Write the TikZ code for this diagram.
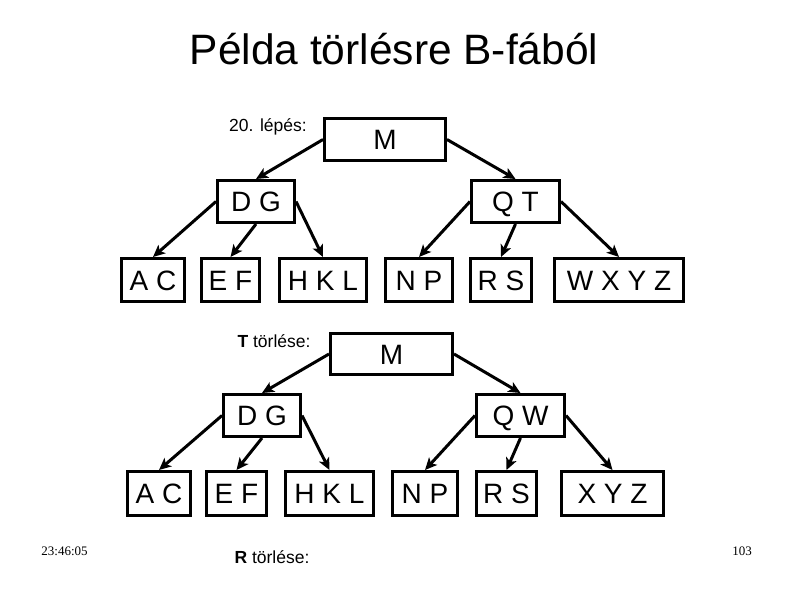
\documentclass[tikz,border=0pt]{standalone}
\usepackage{fontspec}
\setmainfont{Liberation Sans}
\newfontfamily\serifsmall{Liberation Serif}
\usetikzlibrary{arrows.meta}
\begin{document}
\begin{tikzpicture}[x=1pt,y=-1pt,
  bbox/.style={draw,line width=3pt,inner sep=0pt,minimum height=#1,text height=20pt,text depth=0pt,font=\fontsize{28}{28}\selectfont},
  bbox/.default=42pt,
  arr/.style={line width=3pt,-{Stealth[length=12pt,width=11pt,inset=3pt]}},
  lbl/.style={font=\fontsize{17.5}{18}\selectfont,inner sep=0pt}]
\useasboundingbox (0,0) rectangle (794,595);
\fill[white] (0,0) rectangle (794,595);
\node[anchor=base,inner sep=0pt,font=\fontsize{42.5}{42}\selectfont] (title) at (394,64) {Példa törlésre B-fából};
% upper tree
\node[lbl] (l1) at (268,127) {20. lépés:};
\node[bbox,minimum width=121pt] (m1) at (385,139.5) {M};
\node[bbox,minimum width=77pt] (dg1) at (256,201.5) {D G};
\node[bbox,minimum width=88pt] (qt1) at (515.5,201.5) {Q T};
\node[bbox,minimum width=63pt,minimum height=43pt] (ac1) at (153,280) {A C};
\node[bbox,minimum width=58pt,minimum height=43pt] (ef1) at (230.5,280) {E F};
\node[bbox,minimum width=87pt,minimum height=43pt] (hkl1) at (323,280) {H K L};
\node[bbox,minimum width=67pt,minimum height=43pt] (np1) at (419,280) {N P};
\node[bbox,minimum width=61pt,minimum height=43pt] (rs1) at (501,280) {R S};
\node[bbox,minimum width=129pt,minimum height=43pt] (wxyz1) at (619,280) {W X Y Z};
\draw[arr] (m1.west) -- (dg1.north);
\draw[arr] (m1.east) -- (qt1.north);
\draw[arr] (dg1.west) -- (ac1.north);
\draw[arr] (dg1.south) -- (ef1.north);
\draw[arr] (dg1.east) -- (hkl1.north);
\draw[arr] (qt1.west) -- (np1.north);
\draw[arr] (qt1.south) -- (rs1.north);
\draw[arr] (qt1.east) -- (wxyz1.north);
% lower tree
\node[lbl] (l2) at (274,341) {\textbf{T} törlése:};
\node[bbox,minimum width=122pt,minimum height=41pt] (m2) at (391.5,354) {M};
\node[bbox,minimum width=77pt] (dg2) at (262,415.5) {D G};
\node[bbox,minimum width=88pt] (qw2) at (520.5,415.5) {Q W};
\node[bbox,minimum width=63pt,minimum height=44pt] (ac2) at (159,493.5) {A C};
\node[bbox,minimum width=60pt,minimum height=44pt] (ef2) at (236.5,493.5) {E F};
\node[bbox,minimum width=88pt,minimum height=44pt] (hkl2) at (329.5,493.5) {H K L};
\node[bbox,minimum width=65pt,minimum height=44pt] (np2) at (425,493.5) {N P};
\node[bbox,minimum width=60pt,minimum height=44pt] (rs2) at (506.5,493.5) {R S};
\node[bbox,minimum width=102pt,minimum height=44pt] (xyz2) at (612.5,493.5) {X Y Z};
\draw[arr] (m2.west) -- (dg2.north);
\draw[arr] (m2.east) -- (qw2.north);
\draw[arr] (dg2.west) -- (ac2.north);
\draw[arr] (dg2.south) -- (ef2.north);
\draw[arr] (dg2.east) -- (hkl2.north);
\draw[arr] (qw2.west) -- (np2.north);
\draw[arr] (qw2.south) -- (rs2.north);
\draw[arr] (qw2.east) -- (xyz2.north);
% footer
\node[lbl] (l3) at (272,557) {\textbf{R} törlése:};
\node[inner sep=0pt,font=\serifsmall\fontsize{13}{13}\selectfont] (time) at (64.5,551) {23:46:05};
\node[inner sep=0pt,font=\serifsmall\fontsize{13}{13}\selectfont] (page) at (742,551) {103};
\end{tikzpicture}
\end{document}
